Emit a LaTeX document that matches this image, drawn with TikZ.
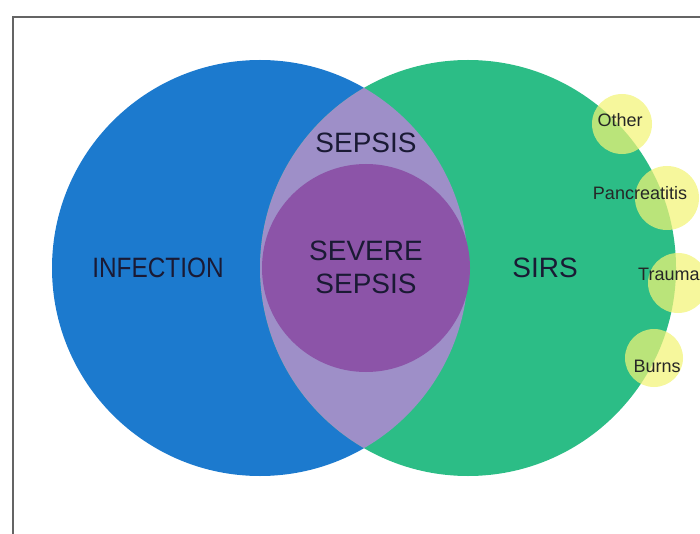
\documentclass[tikz,border=0pt]{standalone}
\usepackage{fontspec}
\setmainfont{Liberation Sans}
\definecolor{infblue}{RGB}{28,122,206}
\definecolor{sirsgreen}{RGB}{44,189,134}
\definecolor{lensviolet}{RGB}{158,143,200}
\definecolor{sevpurple}{RGB}{140,84,168}
\definecolor{smallyellow}{RGB}{242,244,118}
\definecolor{labelink}{RGB}{26,26,52}
\definecolor{framegray}{RGB}{100,100,100}
\tikzset{
  bigcirc/.style={circle, minimum size=416pt, inner sep=0pt},
  smallcirc/.style={circle, fill=smallyellow, fill opacity=0.72, inner sep=0pt},
  biglabel/.style={anchor=base, text=labelink, font=\fontsize{28}{33}\selectfont, align=center, inner sep=0pt},
  smalllabel/.style={anchor=base, text=black!85, font=\fontsize{18}{20}\selectfont, inner sep=0pt},
}
\begin{document}
\begin{tikzpicture}[x=1pt,y=-1pt]
\useasboundingbox (0,0) rectangle (700,534);
% frame
\coordinate (fTL) at (13,17);
\coordinate (fTR) at (700,17);
\coordinate (fBL) at (13,534);
\draw[framegray, line width=2pt] (fTR) -- (fTL) -- (fBL);
% big circles
\node[bigcirc, fill=infblue] (infection) at (260,268) {};
\node[bigcirc, fill=sirsgreen] (sirs) at (468,268) {};
% lens
\begin{scope}
  \clip (260,268) circle (208);
  \fill[lensviolet] (468,268) circle (208);
\end{scope}
% severe sepsis circle
\node[circle, fill=sevpurple, minimum size=208pt, inner sep=0pt] (severe) at (366,268) {};
% small circles
\node[smallcirc, minimum size=60pt] (cOther) at (622,124) {};
\node[smallcirc, minimum size=64pt] (cPanc) at (667,198) {};
\node[smallcirc, minimum size=60pt] (cTrauma) at (678,283) {};
\node[smallcirc, minimum size=58pt] (cBurns) at (654,358) {};
% labels
\node[biglabel] (tSepsis) at (366,153) {SEPSIS};
\node[biglabel] (tSevere) at (366,293) {SEVERE\\SEPSIS};
\node[biglabel] (tInfection) at (158,277) {\scalebox{0.87}[1]{INFECTION}};
\node[biglabel] (tSirs) at (545,277) {SIRS};
\node[smalllabel] (tOther) at (620,127) {Other};
\node[smalllabel] (tPanc) at (640,200) {Pancreatitis};
\node[smalllabel, anchor=base west] (tTrauma) at (638,280) {Trauma};
\node[smalllabel] (tBurns) at (657,372) {Burns};
\end{tikzpicture}
\end{document}
